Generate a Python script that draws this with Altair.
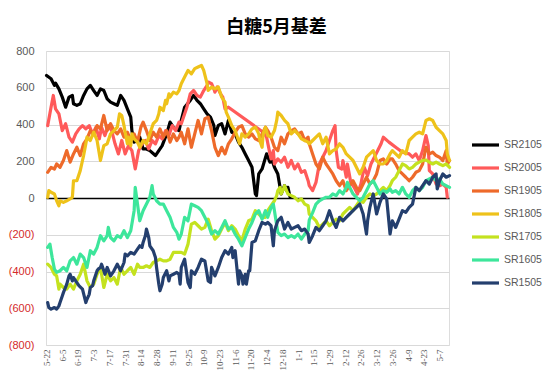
import altair as alt
import pandas as pd

# ---------------- data (day offset from 5-22, basis value) ----------------
series = ["SR2105", "SR2005", "SR1905", "SR1805", "SR1705", "SR1605", "SR1505"]
colors = ["#000000", "#FF5A5A", "#EE6A2A", "#EEC21A", "#C4E21F", "#3DE69B", "#243F6E"]
widths = [3.2, 3.2, 2.2, 2.0, 2.0, 2.0, 3.2]

tick_labels = ["5-22", "6-5", "6-19", "7-3", "7-17", "7-31", "8-14", "8-28", "9-11",
               "9-25", "10-9", "10-23", "11-6", "11-20", "12-4", "12-18", "1-1", "1-15",
               "1-29", "2-12", "2-26", "3-12", "3-26", "4-9", "4-23", "5-7"]
y_ticks = [-800, -600, -400, -200, 0, 200, 400, 600, 800]

sr2105_days = [0,4,7,8,11,14,17,20,23,24,27,30,33,36,39,42,45,48,51,54,57,60,63,66,69,72,75,76,78,81,
               83,86,89,92,97,100,103,107,110,113,118,120,123,128,131,134,137,140,143,146,149,150,153,
               156,159,162,165,168,171,174,177,180,183,186,187,189,192,196,199,201,203,206,209,212,214,215,217]
sr2105_vals = [667,649,613,625,594,549,494,549,558,513,504,513,558,594,613,585,558,594,585,540,522,513,504,
               558,531,485,440,367,304,313,331,267,267,258,231,258,285,349,413,385,367,422,494,531,558,531,
               513,485,458,440,395,340,395,404,349,422,358,349,304,276,240,204,167,22,13,131,158,240,195,
               204,167,131,22,67,40,58,4]

sr2005_days = [1,4,6,8,11,14,17,20,23,26,29,32,35,38,41,44,47,49,52,55,58,61,64,67,70,73,76,79,82,85,
               88,91,94,97,100,103,106,109,112,115,118,120,125,128,131,134,137,140,143,144,147,149,150,152,
               155,157,159,162,193,196,199,200,202,203,206,209,212,215,218,221,224,227,230,233,234,237,240,
               243,246,249,252,255,257,258,260,263,264,267,268,271,274,277,280,283,286,289,292,295,298,300,
               305,311,317,323,326,329,332,335,338,340,341,344,347,350,353,356,357]
sr2005_vals = [394,494,558,485,458,367,404,331,304,349,376,394,376,394,349,385,322,385,340,394,367,295,240,
               313,240,285,258,158,258,295,313,267,313,295,340,322,367,340,394,367,413,404,494,567,585,558,
               549,585,613,631,622,594,576,604,567,549,485,494,358,331,240,213,258,185,213,195,222,167,204,
               158,185,140,149,94,67,40,85,185,222,258,313,367,394,258,167,158,204,113,185,85,58,22,76,167,
               122,185,222,258,295,331,304,276,249,240,222,240,204,258,340,285,149,131,76,67,76,58,4]

sr1905_days = [1,4,7,9,12,15,18,21,24,27,30,33,36,39,42,45,48,51,54,57,60,63,66,69,72,75,78,81,84,86,
               89,92,95,98,101,104,107,110,113,116,118,120,123,126,129,132,135,138,141,144,147,150,153,156,
               159,162,165,168,171,174,177,180,183,186,189,192,195,197,200,203,206,209,212,215,218,221,224,
               227,230,233,234,237,240,243,246,249,252,255,258,261,264,267,270,273,276,279,282,285,288,291,
               294,297,300,303,306,308,311,314,317,320,323,326,329,332,335,338,341,344,347,350,353,356,357,359]
sr1905_vals = [140,167,158,185,167,204,258,195,240,276,231,295,322,367,349,394,376,449,367,404,367,349,376,
               331,358,313,349,304,385,413,367,313,358,331,376,331,367,304,349,313,331,358,295,376,276,349,
               422,349,431,440,367,276,231,276,240,295,322,358,385,394,349,331,349,322,313,349,385,367,331,
               276,258,331,295,349,367,376,349,358,313,331,295,240,185,158,222,185,158,131,94,67,94,40,67,
               94,58,40,76,113,76,94,131,204,213,185,213,213,185,149,131,113,94,113,140,149,185,276,240,249,
               231,222,204,258,185,204]

sr1805_days = [1,2,4,7,9,11,12,15,18,21,23,24,27,30,32,33,35,36,39,42,45,48,51,54,57,60,63,65,67,69,
               70,72,73,75,76,78,81,83,86,89,92,95,98,100,101,104,106,107,109,110,113,116,118,120,123,126,
               129,132,135,138,140,143,144,147,150,153,156,159,160,162,165,168,171,172,174,177,180,183,186,
               189,190,192,193,195,197,200,203,205,206,209,212,215,218,221,224,227,230,233,234,237,240,243,
               246,249,252,255,258,261,264,267,270,273,276,279,282,285,288,291,294,297,300,303,306,308,311,
               314,317,320,323,326,329,332,335,338,341,344,347,350,353,356,357,359]
sr1805_vals = [4,40,31,22,-15,-42,-15,-24,-15,-5,4,94,94,149,204,231,295,331,313,358,313,204,285,295,349,
               367,385,458,449,394,358,295,331,285,349,322,304,276,313,295,349,404,422,458,494,476,531,513,
               567,549,576,567,585,622,658,694,676,704,713,722,694,622,585,604,594,604,549,522,467,440,394,
               367,313,295,349,331,349,376,385,349,313,276,349,385,340,331,367,422,467,449,422,404,349,367,
               349,322,313,304,295,313,331,349,295,331,240,258,267,295,276,240,222,204,167,131,167,222,240,
               258,204,185,185,204,240,258,240,222,258,240,313,331,349,358,349,422,431,422,385,367,349,313,
               240,204]

sr1705_days = [1,4,7,9,11,12,15,18,21,24,27,30,33,36,39,42,45,48,51,54,57,60,63,66,69,72,75,78,81,83,
               86,89,92,95,98,101,104,107,110,113,116,120,123,126,129,132,135,138,141,144,147,150,153,156,
               159,162,165,168,171,174,177,180,183,186,189,192,195,197,200,203,205,206,208,209,211,212,215,
               218,221,224,227,230,233,234,237,240,243,246,249,252,255,258,261,264,267,270,273,276,279,282,
               285,288,291,294,297,300,303,306,308,311,314,317,320,323,326,329,332,335,338,341,344,347,350,
               353,356,359]
sr1705_vals = [-360,-378,-415,-424,-496,-469,-487,-496,-469,-496,-451,-415,-360,-451,-487,-469,-415,-378,
               -487,-415,-451,-433,-469,-378,-415,-396,-378,-415,-360,-378,-378,-369,-378,-351,-342,-333,
               -342,-342,-333,-296,-296,-296,-305,-251,-142,-133,-151,-169,-160,-115,-178,-224,-205,-169,
               -133,-178,-151,-169,-205,-233,-169,-124,-115,-69,-87,-105,-105,-69,-42,-15,13,40,58,22,49,
               67,22,13,4,-15,-5,-33,-42,-87,-105,-124,-160,-142,-124,-151,-133,-115,-124,-87,-69,-51,-69,
               -42,-15,-24,4,22,13,22,40,58,40,67,94,113,149,185,176,158,167,185,195,204,207,195,185,195,
               185,176,185,167]

sr1605_days = [1,3,5,7,9,12,15,18,21,24,27,30,33,36,39,42,45,48,51,54,55,57,60,63,66,69,72,75,78,79,
               81,83,86,89,92,94,95,98,101,104,107,110,112,113,116,118,120,123,126,129,132,135,138,141,144,
               147,150,153,156,159,162,165,168,171,174,177,180,183,186,189,192,195,197,200,202,203,206,209,
               212,215,218,221,224,227,230,233,234,237,240,243,246,249,252,255,258,261,264,267,268,270,273,
               276,279,282,285,288,291,294,297,300,303,306,308,311,314,317,320,323,326,329,332,335,338,341,
               344,347,350,353,356,359]
sr1605_vals = [-269,-251,-324,-387,-405,-396,-378,-396,-342,-324,-360,-305,-324,-378,-287,-305,-269,-205,
               -233,-205,-160,-215,-233,-205,-215,-178,-215,-178,-69,58,-33,-124,-69,-33,4,67,22,-15,-33,
               -33,-69,-105,-142,-160,-187,-224,-196,-105,-124,-33,-42,-51,-69,-105,-142,-196,-178,-196,
               -160,-124,-169,-160,-196,-224,-260,-215,-169,-133,-87,-69,-115,-69,-105,-51,-33,-69,-187,
               -205,-196,-215,-205,-215,-196,-224,-196,-178,-120,-80,-33,-15,-5,4,4,22,13,40,22,58,85,58,
               22,4,-15,4,40,76,94,58,22,40,31,49,31,40,22,58,22,4,40,58,40,58,94,104,113,94,104,76,67,58]

sr1505_days = [1,2,4,7,9,11,12,14,15,18,20,21,23,24,27,29,32,35,36,38,39,41,42,45,46,48,49,51,52,54,
               57,60,63,66,69,70,72,75,78,81,83,85,86,88,89,91,92,95,97,98,100,101,103,104,107,109,110,113,
               116,118,119,120,123,126,128,129,132,135,138,141,144,146,147,150,153,156,159,162,165,166,168,
               171,172,174,175,177,178,180,181,183,186,189,192,195,197,200,202,203,206,209,212,215,218,221,
               224,227,230,233,234,237,240,243,246,249,252,255,258,261,264,267,270,273,276,279,282,285,286,
               288,291,294,297,300,303,306,308,311,314,317,320,323,326,329,332,335,338,341,344,347,348,350,
               353,356,359]
sr1505_vals = [-569,-596,-605,-596,-605,-587,-569,-533,-515,-469,-424,-415,-451,-433,-460,-478,-496,-569,
               -551,-524,-487,-478,-451,-396,-387,-378,-360,-396,-415,-378,-424,-396,-360,-396,-351,-305,
               -315,-296,-305,-278,-260,-269,-242,-205,-169,-215,-260,-287,-324,-378,-469,-505,-469,-433,
               -396,-451,-424,-415,-405,-415,-469,-378,-333,-460,-487,-396,-415,-378,-333,-342,-451,-460,
               -378,-424,-378,-324,-287,-305,-269,-324,-287,-469,-396,-424,-469,-415,-469,-396,-396,-242,
               -233,-178,-133,-142,-133,-151,-260,-178,-124,-105,-169,-133,-169,-160,-151,-178,-169,-196,
               -242,-205,-160,-178,-151,-124,-69,-124,-160,-105,-124,-105,-87,-69,-51,-33,-87,-196,-124,
               -51,22,-87,-24,22,-5,-196,-124,-160,-115,-69,-78,-51,-33,58,40,67,94,76,113,131,49,94,131,
               113,122]

all_days = [sr2105_days, sr2005_days, sr1905_days, sr1805_days, sr1705_days, sr1605_days, sr1505_days]
all_vals = [sr2105_vals, sr2005_vals, sr1905_vals, sr1805_vals, sr1705_vals, sr1605_vals, sr1505_vals]

# ---------------- build table ----------------
base = pd.Timestamp("2020-05-22")
rows = []
for i, (name, ds, vs) in enumerate(zip(series, all_days, all_vals)):
    for d, v in zip(ds, vs):
        rows.append({"series": name, "order": i,
                     "date": (base + pd.Timedelta(days=d)).strftime("%Y-%m-%dT%H:%M:%S"),
                     "value": v})
df = pd.DataFrame(rows)

tick_dates = pd.date_range(base, periods=len(tick_labels), freq="14D")
tick_values = [alt.DateTime(year=t.year, month=t.month, date=t.day) for t in tick_dates]

x_enc = alt.X("date:T",
              scale=alt.Scale(domain=[alt.DateTime(year=2020, month=5, date=21, hours=12),
                                      alt.DateTime(year=2021, month=5, date=15, hours=12)]),
              axis=alt.Axis(values=tick_values, labelExpr="timeFormat(datum.value, '%-m-%-d')",
                            labelAngle=-90, labelFont="Liberation Serif", labelFontSize=9,
                            labelColor="#595959", labelPadding=4, labelOverlap=False,
                            labelFlush=False, grid=False, domain=False, ticks=False, title=None))

y_enc = alt.Y("value:Q",
              scale=alt.Scale(domain=[-800, 800], nice=False),
              axis=alt.Axis(values=y_ticks, tickCount=len(y_ticks),
                            labelExpr="datum.value < 0 ? '(' + format(-datum.value, 'd') + ')' : format(datum.value, 'd')",
                            labelColor={"condition": {"test": "datum.value < 0", "value": "#D42A2A"},
                                        "value": "#595959"},
                            labelFont="Liberation Sans", labelFontSize=11, labelPadding=12,
                            labelOverlap=False, labelFlush=False,
                            grid=True,
                            gridColor={"condition": {"test": "datum.value === 0", "value": "#000000"},
                                       "value": "#D9D9D9"},
                            gridWidth={"condition": {"test": "datum.value === 0", "value": 1.6},
                                       "value": 1},
                            domain=False, ticks=False, title=None))

legend = alt.Legend(title=None, orient="none", legendX=424, legendY=83,
                    symbolType="stroke", symbolSize=729, clipHeight=22, rowPadding=1,
                    labelFont="Liberation Sans", labelFontSize=10.5, labelColor="#595959",
                    labelOffset=3, padding=0)

chart = alt.Chart(df).mark_line(strokeJoin="round", strokeCap="round").encode(
    x=x_enc,
    y=y_enc,
    color=alt.Color("series:N", scale=alt.Scale(domain=series, range=colors), legend=legend),
    strokeWidth=alt.StrokeWidth("series:N", scale=alt.Scale(domain=series, range=widths), legend=legend),
    order=alt.Order("order:Q"),
).properties(
    width=403, height=294,
    title=alt.TitleParams("白糖5月基差", font="Noto Sans CJK SC", fontSize=18, fontWeight="bold",
                          color="#000000", anchor="middle", frame="group", dx=29, offset=8),
    autosize=alt.AutoSizeParams(type="none"),
    padding={"left": 38, "top": 43, "right": 93, "bottom": 38},
).configure_view(stroke=None).configure(background="#FFFFFF")

chart.save("out.html", embed_options={"renderer": "svg", "actions": False})
